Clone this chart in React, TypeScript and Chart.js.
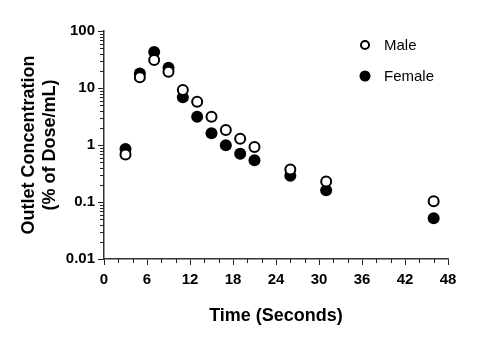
import React, { useEffect, useRef } from "react";
import { Chart, registerables } from "chart.js";

Chart.register(...registerables);

const times = [3, 5, 7, 9, 11, 13, 15, 17, 19, 21, 26, 31, 46];
const maleValues = [0.68, 15.4, 31, 19.3, 9.2, 5.75, 3.14, 1.83, 1.29, 0.92, 0.37, 0.23, 0.103];
const femaleValues = [0.85, 18, 43, 22.7, 6.9, 3.14, 1.6, 0.99, 0.7, 0.54, 0.29, 0.16, 0.052];
const seriesLabels = ["Male", "Female"];
const yTickValues = [0.01, 0.1, 1, 10, 100];
const xTitle = "Time (Seconds)";
const yTitle = ["Outlet Concentration", "(% of Dose/mL)"];

const FONT = "'Liberation Sans', Arial, Helvetica, sans-serif";

const minorTicksPlugin = {
  id: "minorTicks",
  afterDraw(chart: any) {
    const { ctx } = chart;
    const xs = chart.scales.x;
    const ys = chart.scales.y;
    ctx.save();
    ctx.strokeStyle = "#222";
    ctx.lineWidth = 1;
    ctx.beginPath();
    for (let v = 0; v <= 48; v += 2) {
      if (v % 6 === 0) continue;
      const px = Math.round(xs.getPixelForValue(v)) + 0.5;
      ctx.moveTo(px, ys.bottom);
      ctx.lineTo(px, ys.bottom + 4);
    }
    for (let d = 0; d < yTickValues.length - 1; d++) {
      const base = yTickValues[d];
      for (let k = 2; k <= 9; k++) {
        const py = Math.round(ys.getPixelForValue(base * k)) + 0.5;
        ctx.moveTo(xs.left - 4, py);
        ctx.lineTo(xs.left, py);
      }
    }
    ctx.stroke();
    ctx.restore();
  },
};

const legendPlugin = {
  id: "customLegend",
  afterDraw(chart: any) {
    const { ctx } = chart;
    const ds = chart.data.datasets;
    const rows = [
      { y: 45, fill: "#fff", r: 4, bw: 2 },
      { y: 76, fill: "#000", r: 5.5, bw: 0 },
    ];
    ctx.save();
    ctx.font = `15px ${FONT}`;
    ctx.textBaseline = "middle";
    ctx.fillStyle = "#000";
    rows.forEach((row, i) => {
      ctx.beginPath();
      ctx.arc(365, row.y, row.r, 0, Math.PI * 2);
      ctx.fillStyle = row.fill;
      ctx.fill();
      if (row.bw) {
        ctx.lineWidth = row.bw;
        ctx.strokeStyle = "#000";
        ctx.stroke();
      }
      ctx.fillStyle = "#000";
      ctx.fillText(ds[i].label, 384, row.y + 1);
    });
    ctx.restore();
  },
};

export default function App() {
  const ref = useRef<HTMLCanvasElement | null>(null);

  useEffect(() => {
    if (!ref.current) return;
    const chart = new Chart(ref.current, {
      type: "scatter",
      data: {
        datasets: [
          {
            label: seriesLabels[0],
            data: times.map((t, i) => ({ x: t, y: maleValues[i] })),
            pointRadius: 5,
            pointBackgroundColor: "#fff",
            pointBorderColor: "#000",
            pointBorderWidth: 2,
          },
          {
            label: seriesLabels[1],
            data: times.map((t, i) => ({ x: t, y: femaleValues[i] })),
            pointRadius: 6,
            pointBackgroundColor: "#000",
            pointBorderColor: "#000",
            pointBorderWidth: 0,
          },
        ],
      },
      options: {
        animation: false,
        responsive: false,
        layout: { padding: { left: 0, right: 52, top: 31, bottom: 0 } },
        plugins: { legend: { display: false }, tooltip: { enabled: false } },
        scales: {
          x: {
            type: "linear",
            min: 0,
            max: 48,
            afterFit: (s: any) => {
              s.height = 85;
            },
            ticks: {
              stepSize: 6,
              autoSkip: false,
              maxRotation: 0,
              padding: 6,
              color: "#000",
              font: { family: FONT, size: 15, weight: "bold" },
            },
            grid: { display: true, drawOnChartArea: false, tickLength: 6, color: "#222", tickWidth: 1 },
            border: { display: true, color: "#333", width: 1.5 },
            title: {
              display: true,
              text: xTitle,
              color: "#000",
              font: { family: FONT, size: 18, weight: "bold", lineHeight: 1.17 },
              padding: { top: 0, bottom: 17.5 },
            },
          },
          y: {
            type: "logarithmic",
            min: 0.01,
            max: 100,
            afterFit: (s: any) => {
              s.width = 104;
            },
            afterBuildTicks: (s: any) => {
              s.ticks = yTickValues.map((v) => ({ value: v, major: true }));
            },
            ticks: {
              autoSkip: false,
              padding: 3,
              color: "#000",
              font: { family: FONT, size: 15, weight: "bold" },
              callback: (v: any) => String(v),
            },
            grid: { display: true, drawOnChartArea: false, tickLength: 6, color: "#222", tickWidth: 1 },
            border: { display: true, color: "#333", width: 1.5 },
            title: {
              display: true,
              text: yTitle,
              color: "#000",
              font: { family: FONT, size: 18, weight: "bold", lineHeight: 1.17 },
              padding: { top: 18.5, bottom: 0 },
            },
          },
        },
      },
      plugins: [minorTicksPlugin, legendPlugin],
    } as any);
    return () => chart.destroy();
  }, []);

  return (
    <div style={{ position: "absolute", left: 0, top: 0, width: 500, height: 344, background: "#fff" }}>
      <canvas ref={ref} width={500} height={344} style={{ display: "block", width: 500, height: 344 }} />
    </div>
  );
}
